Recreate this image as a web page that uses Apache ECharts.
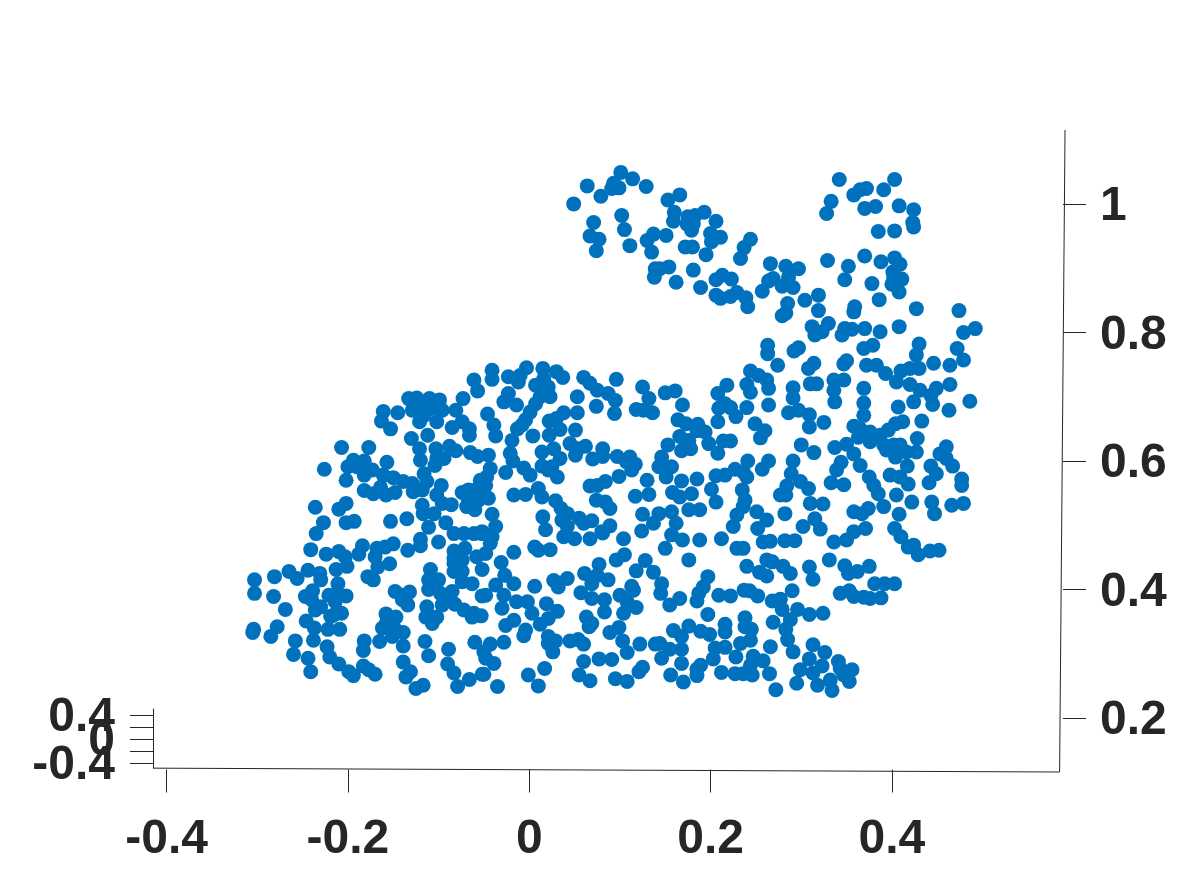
<!DOCTYPE html>
<html>
<head>
<meta charset="utf-8">
<style>html,body{margin:0;padding:0;background:#fff}#c{width:1178px;height:869px}</style>
<script src="https://cdn.jsdelivr.net/npm/echarts@6/dist/echarts.min.js"></script>
</head>
<body>
<div id="c"></div>
<script>
const xTicks = [-0.4, -0.2, 0, 0.2, 0.4];
const yTicks = [0.2, 0.4, 0.6, 0.8, 1];
const zTicks = [-0.4, -0.2, 0, 0.2, 0.4];
const zOuterLabels = [-0.4, 0.4];
const zMiddleLabel = [0];

const rumpUpper = [[-0.207,0.621],[-0.177,0.621],[-0.226,0.587],[-0.236,0.528],[-0.227,0.504],[-0.235,0.487],[-0.202,0.570],[-0.194,0.601],[-0.182,0.600],[-0.200,0.591],[-0.190,0.591],[-0.182,0.578],[-0.173,0.586],[-0.157,0.598],[-0.161,0.578],[-0.150,0.574],[-0.139,0.568],[-0.129,0.565],[-0.116,0.580],[-0.113,0.568],[-0.182,0.554],[-0.172,0.549],[-0.164,0.559],[-0.158,0.547],[-0.148,0.551],[-0.128,0.552],[-0.118,0.555],[-0.102,0.547],[-0.097,0.562],[-0.118,0.531],[-0.117,0.518],[-0.105,0.518],[-0.096,0.534],[-0.086,0.532],[-0.202,0.534],[-0.210,0.525],[-0.202,0.504],[-0.193,0.506],[-0.153,0.506],[-0.135,0.510],[-0.111,0.497],[-0.092,0.504],[-0.161,0.677],[-0.145,0.675],[-0.163,0.662],[-0.153,0.650],[-0.133,0.697],[-0.124,0.698],[-0.110,0.697],[-0.099,0.695],[-0.129,0.679],[-0.118,0.687],[-0.107,0.682],[-0.096,0.679],[-0.121,0.661],[-0.102,0.661],[-0.116,0.671],[-0.081,0.679],[-0.073,0.697],[-0.061,0.726],[-0.057,0.709],[-0.085,0.652],[-0.074,0.661],[-0.066,0.650],[-0.066,0.640],[-0.130,0.635],[-0.112,0.640],[-0.121,0.619],[-0.120,0.601],[-0.103,0.619],[-0.102,0.604],[-0.104,0.593],[-0.094,0.604],[-0.088,0.623],[-0.081,0.616],[-0.065,0.613],[-0.057,0.607],[-0.054,0.570],[-0.057,0.557],[-0.067,0.555],[-0.074,0.551],[-0.067,0.539],[-0.069,0.529],[-0.060,0.524],[-0.056,0.539]];

const rumpLower = [[-0.241,0.462],[-0.224,0.455],[-0.210,0.459],[-0.203,0.451],[-0.201,0.436],[-0.213,0.431],[-0.188,0.455],[-0.184,0.468],[-0.168,0.464],[-0.170,0.451],[-0.167,0.435],[-0.154,0.440],[-0.159,0.466],[-0.150,0.471],[-0.134,0.461],[-0.120,0.478],[-0.120,0.468],[-0.100,0.474],[-0.083,0.487],[-0.072,0.487],[-0.061,0.487],[-0.052,0.487],[-0.083,0.460],[-0.071,0.464],[-0.083,0.448],[-0.083,0.441],[-0.083,0.428],[-0.074,0.446],[-0.074,0.428],[-0.074,0.412],[-0.063,0.409],[-0.058,0.451],[-0.052,0.431],[-0.109,0.431],[-0.111,0.415],[-0.100,0.415],[-0.111,0.400],[-0.098,0.394],[-0.085,0.397],[-0.093,0.384],[-0.082,0.377],[-0.072,0.368],[-0.061,0.363],[-0.053,0.359],[-0.063,0.357],[-0.052,0.390],[-0.113,0.373],[-0.114,0.357],[-0.102,0.357],[-0.107,0.347],[-0.096,0.376],[-0.178,0.420],[-0.172,0.415],[-0.148,0.397],[-0.132,0.396],[-0.140,0.391],[-0.140,0.384],[-0.134,0.376],[-0.158,0.362],[-0.147,0.357],[-0.157,0.350],[-0.162,0.340],[-0.148,0.338],[-0.139,0.333],[-0.151,0.327],[-0.165,0.319],[-0.139,0.312],[-0.182,0.320],[-0.183,0.305],[-0.115,0.319],[-0.111,0.297],[-0.089,0.307],[-0.060,0.318],[-0.090,0.284],[-0.083,0.270],[-0.066,0.260],[-0.052,0.268],[-0.079,0.249],[-0.048,0.293],[-0.139,0.287],[-0.131,0.272],[-0.136,0.264],[-0.125,0.246],[-0.117,0.251],[-0.183,0.281],[-0.177,0.275],[-0.170,0.268],[-0.199,0.272],[-0.194,0.266],[-0.210,0.284],[-0.220,0.295],[-0.223,0.311],[-0.244,0.293],[-0.241,0.272],[-0.260,0.299],[-0.258,0.320],[-0.238,0.321],[-0.237,0.340],[-0.246,0.351],[-0.222,0.338],[-0.209,0.338],[-0.236,0.368],[-0.230,0.373],[-0.216,0.360],[-0.207,0.363],[-0.219,0.358],[-0.247,0.389],[-0.239,0.398],[-0.240,0.384],[-0.221,0.391],[-0.211,0.409],[-0.212,0.394],[-0.202,0.390],[-0.214,0.381],[-0.303,0.415],[-0.303,0.394],[-0.281,0.420],[-0.282,0.389],[-0.269,0.369],[-0.265,0.428],[-0.256,0.417],[-0.244,0.430],[-0.231,0.425],[-0.230,0.415],[-0.304,0.338],[-0.305,0.333],[-0.278,0.342],[-0.285,0.327]];

const backUpper = [[-0.041,0.741],[-0.041,0.727],[-0.023,0.731],[-0.010,0.733],[-0.003,0.745],[-0.012,0.723],[0.015,0.744],[0.007,0.718],[0.016,0.728],[0.030,0.739],[0.037,0.730],[-0.023,0.705],[-0.028,0.692],[-0.014,0.687],[0.007,0.689],[0.001,0.676],[0.012,0.700],[0.023,0.700],[0.021,0.715],[-0.046,0.673],[-0.039,0.656],[-0.037,0.639],[-0.013,0.650],[-0.019,0.632],[-0.004,0.664],[0.004,0.639],[-0.008,0.656],[0.053,0.700],[0.060,0.730],[0.067,0.721],[0.075,0.710],[0.087,0.705],[0.095,0.694],[0.074,0.685],[0.094,0.674],[0.096,0.727],[0.053,0.675],[0.038,0.675],[0.030,0.666],[0.022,0.662],[0.034,0.649],[0.022,0.640],[0.051,0.648],[0.045,0.627],[0.054,0.619],[0.062,0.623],[0.070,0.603],[0.081,0.619],[0.081,0.607],[0.051,0.609],[0.027,0.619],[0.014,0.614],[0.014,0.592],[0.021,0.586],[0.031,0.575],[0.034,0.604],[0.025,0.591],[-0.045,0.609],[-0.043,0.588],[-0.021,0.612],[-0.018,0.600],[-0.026,0.582],[-0.006,0.589],[0.001,0.578],[-0.047,0.575],[-0.048,0.562],[-0.045,0.542],[-0.017,0.547],[-0.004,0.548],[0.010,0.557],[0.014,0.544],[0.067,0.561],[0.084,0.568],[0.075,0.562],[0.099,0.576],[0.097,0.607],[0.111,0.606],[0.117,0.595],[0.107,0.599],[0.113,0.586],[0.125,0.715],[0.132,0.697],[0.118,0.680],[0.126,0.679],[0.136,0.675],[0.150,0.706],[0.161,0.709],[0.169,0.687],[0.208,0.705],[0.209,0.682],[0.208,0.661],[0.218,0.718],[0.216,0.689],[0.164,0.664],[0.173,0.658],[0.186,0.657],[0.185,0.647],[0.194,0.645],[0.198,0.627],[0.166,0.638],[0.176,0.632],[0.168,0.616],[0.178,0.619],[0.153,0.625],[0.208,0.612],[0.214,0.631],[0.222,0.631],[0.146,0.606],[0.143,0.591],[0.157,0.591],[0.151,0.575],[0.130,0.570],[0.117,0.545],[0.132,0.548],[0.158,0.551],[0.168,0.569],[0.185,0.572],[0.166,0.544],[0.179,0.549],[0.206,0.577],[0.216,0.578],[0.201,0.556],[0.206,0.536],[0.074,0.539],[0.084,0.536],[0.089,0.526],[0.029,0.538],[0.035,0.526],[0.042,0.518],[0.015,0.513],[0.018,0.493],[0.036,0.508],[0.042,0.498],[0.055,0.511],[0.069,0.507],[0.060,0.503],[0.089,0.499],[0.080,0.490],[0.124,0.491],[0.125,0.517],[0.137,0.503],[0.143,0.518],[0.157,0.521],[0.162,0.503],[0.176,0.524],[0.188,0.524],[-0.041,0.517],[-0.037,0.498],[-0.052,0.490],[-0.041,0.482]];

const bellyLower = [[0.038,0.482],[0.050,0.479],[0.067,0.479],[0.104,0.479],[0.157,0.485],[0.169,0.477],[0.150,0.464],[0.188,0.477],[0.212,0.479],[0.081,0.488],[-0.017,0.458],[0.006,0.466],[0.010,0.461],[0.023,0.462],[-0.031,0.442],[-0.043,0.472],[-0.048,0.456],[0.096,0.446],[0.105,0.454],[0.128,0.445],[0.118,0.429],[0.137,0.427],[0.176,0.446],[-0.027,0.422],[-0.037,0.407],[-0.017,0.409],[-0.028,0.391],[-0.048,0.391],[-0.014,0.381],[-0.030,0.371],[0.006,0.405],[0.027,0.414],[0.042,0.417],[0.032,0.404],[0.061,0.425],[0.077,0.439],[0.075,0.422],[0.087,0.415],[0.069,0.409],[0.057,0.395],[0.069,0.386],[0.083,0.384],[0.083,0.365],[-0.002,0.381],[0.003,0.363],[0.019,0.378],[0.031,0.366],[0.021,0.355],[0.012,0.346],[-0.004,0.337],[-0.006,0.328],[-0.017,0.352],[-0.026,0.344],[0.146,0.409],[0.145,0.394],[0.166,0.386],[0.155,0.376],[0.197,0.420],[0.192,0.404],[0.187,0.394],[0.185,0.382],[0.209,0.391],[0.197,0.361],[0.113,0.405],[0.100,0.391],[0.115,0.399],[0.108,0.381],[0.118,0.372],[0.104,0.363],[0.063,0.357],[0.069,0.347],[0.066,0.342],[0.099,0.341],[0.089,0.333],[0.176,0.343],[0.159,0.336],[0.168,0.327],[0.189,0.335],[0.199,0.330],[0.216,0.346],[0.216,0.334],[0.021,0.327],[0.029,0.320],[0.026,0.303],[0.021,0.316],[0.045,0.320],[0.054,0.322],[0.060,0.315],[-0.028,0.318],[-0.043,0.315],[-0.050,0.303],[-0.039,0.285],[-0.050,0.268],[-0.035,0.249],[0.103,0.320],[0.108,0.302],[0.122,0.315],[0.144,0.316],[0.139,0.315],[0.155,0.307],[0.168,0.307],[0.146,0.293],[0.168,0.285],[0.205,0.309],[0.203,0.292],[0.216,0.310],[0.060,0.288],[0.077,0.292],[0.091,0.291],[0.055,0.267],[0.067,0.258],[0.095,0.261],[0.108,0.257],[0.121,0.272],[0.125,0.279],[-0.001,0.267],[0.017,0.277],[0.010,0.250],[0.189,0.282],[0.185,0.276],[0.185,0.266],[0.156,0.267],[0.170,0.256],[0.212,0.271]];

const chestUpper = [[0.263,0.780],[0.263,0.767],[0.274,0.749],[0.244,0.740],[0.253,0.733],[0.262,0.726],[0.264,0.713],[0.240,0.719],[0.244,0.707],[0.291,0.714],[0.291,0.698],[0.286,0.675],[0.297,0.679],[0.309,0.672],[0.309,0.653],[0.325,0.660],[0.264,0.687],[0.240,0.683],[0.228,0.669],[0.222,0.683],[0.249,0.658],[0.260,0.647],[0.255,0.636],[0.297,0.776],[0.292,0.771],[0.314,0.752],[0.308,0.744],[0.310,0.720],[0.317,0.720],[0.336,0.726],[0.347,0.726],[0.336,0.710],[0.337,0.692],[0.350,0.756],[0.347,0.751],[0.369,0.713],[0.369,0.690],[0.369,0.671],[0.358,0.654],[0.365,0.650],[0.363,0.637],[0.376,0.645],[0.376,0.630],[0.387,0.640],[0.391,0.625],[0.396,0.648],[0.404,0.658],[0.412,0.661],[0.407,0.684],[0.433,0.662],[0.402,0.625],[0.409,0.625],[0.394,0.617],[0.404,0.606],[0.416,0.614],[0.427,0.614],[0.428,0.635],[0.372,0.749],[0.383,0.749],[0.393,0.736],[0.405,0.723],[0.410,0.740],[0.420,0.744],[0.430,0.744],[0.430,0.782],[0.427,0.765],[0.446,0.752],[0.464,0.749],[0.472,0.775],[0.479,0.757],[0.369,0.775],[0.379,0.780],[0.420,0.719],[0.431,0.710],[0.449,0.713],[0.464,0.719],[0.443,0.702],[0.424,0.692],[0.445,0.688],[0.486,0.693],[0.463,0.679],[0.300,0.625],[0.314,0.613],[0.337,0.621],[0.350,0.626],[0.358,0.611],[0.365,0.593],[0.344,0.598],[0.339,0.586],[0.333,0.566],[0.347,0.563],[0.291,0.600],[0.289,0.580],[0.299,0.568],[0.308,0.557],[0.284,0.561],[0.277,0.547],[0.283,0.547],[0.264,0.600],[0.257,0.587],[0.241,0.600],[0.227,0.587],[0.236,0.583],[0.240,0.575],[0.235,0.555],[0.238,0.539],[0.236,0.529],[0.229,0.516],[0.251,0.521],[0.262,0.508],[0.282,0.518],[0.310,0.534],[0.324,0.533],[0.375,0.575],[0.380,0.562],[0.385,0.549],[0.391,0.529],[0.398,0.578],[0.409,0.575],[0.418,0.564],[0.417,0.592],[0.405,0.547],[0.422,0.536],[0.443,0.592],[0.449,0.580],[0.441,0.566],[0.453,0.611],[0.460,0.622],[0.467,0.592],[0.460,0.604],[0.477,0.572],[0.477,0.562],[0.444,0.536],[0.447,0.518],[0.466,0.531],[0.479,0.534],[0.358,0.521],[0.367,0.518],[0.374,0.526],[0.408,0.517],[0.315,0.510]];

const pawsLower = [[0.225,0.498],[0.252,0.495],[0.302,0.498],[0.321,0.494],[0.371,0.495],[0.358,0.490],[0.350,0.477],[0.336,0.474],[0.403,0.495],[0.410,0.482],[0.418,0.466],[0.424,0.469],[0.429,0.454],[0.442,0.460],[0.452,0.461],[0.258,0.474],[0.266,0.475],[0.282,0.476],[0.293,0.476],[0.229,0.464],[0.236,0.464],[0.240,0.436],[0.254,0.427],[0.262,0.421],[0.262,0.446],[0.268,0.443],[0.280,0.436],[0.288,0.425],[0.309,0.435],[0.313,0.416],[0.331,0.446],[0.348,0.437],[0.352,0.425],[0.362,0.428],[0.375,0.436],[0.381,0.409],[0.392,0.409],[0.403,0.409],[0.343,0.394],[0.353,0.398],[0.358,0.389],[0.369,0.388],[0.376,0.386],[0.388,0.387],[0.237,0.399],[0.243,0.398],[0.252,0.390],[0.222,0.390],[0.290,0.398],[0.268,0.382],[0.277,0.385],[0.279,0.369],[0.296,0.369],[0.309,0.361],[0.324,0.363],[0.288,0.353],[0.269,0.349],[0.283,0.338],[0.285,0.322],[0.291,0.303],[0.238,0.356],[0.238,0.342],[0.245,0.338],[0.244,0.321],[0.233,0.316],[0.266,0.311],[0.313,0.314],[0.326,0.302],[0.309,0.292],[0.323,0.281],[0.299,0.275],[0.313,0.270],[0.318,0.251],[0.332,0.259],[0.334,0.243],[0.295,0.254],[0.272,0.244],[0.341,0.288],[0.343,0.277],[0.356,0.275],[0.347,0.267],[0.353,0.257],[0.228,0.295],[0.247,0.296],[0.258,0.289],[0.244,0.282],[0.227,0.269],[0.236,0.269],[0.246,0.267],[0.265,0.269]];

const earLeft = [[0.049,1.000],[0.064,1.028],[0.079,1.012],[0.101,1.049],[0.114,1.039],[0.129,1.027],[0.091,1.024],[0.099,1.025],[0.093,1.032],[0.071,0.971],[0.102,0.982],[0.067,0.950],[0.077,0.945],[0.074,0.927],[0.105,0.960],[0.111,0.935],[0.166,1.014],[0.153,1.006],[0.160,0.987],[0.159,0.973],[0.175,0.980],[0.183,0.982],[0.193,0.987],[0.206,0.973],[0.174,0.969],[0.179,0.959],[0.181,0.969],[0.200,0.954],[0.211,0.948],[0.201,0.941],[0.172,0.933],[0.180,0.933],[0.195,0.921],[0.130,0.943],[0.137,0.953],[0.151,0.951],[0.135,0.925],[0.154,0.902],[0.139,0.899],[0.144,0.899],[0.138,0.886],[0.181,0.897],[0.162,0.878],[0.189,0.870],[0.206,0.882],[0.213,0.889],[0.223,0.883],[0.206,0.858],[0.211,0.853],[0.222,0.856],[0.229,0.862]];

const earRight = [[0.342,1.038],[0.403,1.038],[0.358,1.014],[0.365,1.022],[0.372,1.024],[0.391,1.022],[0.333,1.004],[0.328,0.985],[0.370,0.993],[0.382,0.996],[0.408,0.997],[0.424,0.991],[0.423,0.971],[0.424,0.964],[0.385,0.957],[0.403,0.958],[0.244,0.945],[0.237,0.932],[0.233,0.915],[0.266,0.907],[0.283,0.903],[0.297,0.899],[0.329,0.912],[0.352,0.903],[0.370,0.919],[0.388,0.910],[0.403,0.916],[0.409,0.906],[0.269,0.884],[0.264,0.880],[0.286,0.886],[0.279,0.872],[0.291,0.870],[0.257,0.864],[0.348,0.882],[0.378,0.876],[0.401,0.894],[0.411,0.883],[0.400,0.875],[0.408,0.863],[0.402,0.884],[0.239,0.854],[0.241,0.840],[0.304,0.850],[0.319,0.858],[0.319,0.834],[0.285,0.845],[0.283,0.830],[0.279,0.826],[0.359,0.840],[0.358,0.832],[0.386,0.851],[0.427,0.837],[0.474,0.834],[0.312,0.809],[0.330,0.814],[0.323,0.801],[0.315,0.796],[0.348,0.806],[0.356,0.805],[0.370,0.806],[0.387,0.801],[0.408,0.809],[0.345,0.796],[0.479,0.800],[0.492,0.806]];

const points = [].concat(rumpUpper, rumpLower, backUpper, bellyLower, chestUpper, pawsLower, earLeft, earRight);

const xLine = [[-0.415, 0.122], [0.585, 0.116]];
const yLine = [[0.585, 0.116], [0.591, 1.115]];

const ink = '#262626';
const labelFont = { color: ink, fontFamily: '"Liberation Sans", Arial, sans-serif', fontWeight: 'bold', fontSize: 48, showMinLabel: true, showMaxLabel: true, hideOverlap: false };
const fmt = v => String(+(+v).toFixed(1));
const zAxisBase = { gridIndex: 1, type: 'value', min: -0.483, max: 0.5, position: 'left', splitLine: { show: false } };
const zLabelAxis = values => Object.assign({}, zAxisBase, {
  axisLine: { show: false, onZero: false },
  axisTick: { show: false },
  axisLabel: Object.assign({ show: true, margin: 38, verticalAlign: 'top', lineHeight: 5, customValues: values, formatter: fmt }, labelFont)
});

const chart = echarts.init(document.getElementById('c'), null, { renderer: 'canvas' });
chart.setOption({
  animation: false,
  backgroundColor: '#ffffff',
  grid: [
    { left: 153, top: 130, width: 912.5, height: 642 },
    { left: 153, top: 709, width: 1, height: 59 }
  ],
  xAxis: [
    { gridIndex: 0, type: 'value', min: -0.415, max: 0.5915, position: 'bottom', offset: -2.5, splitLine: { show: false },
      axisLine: { show: false, onZero: false },
      axisTick: { show: true, length: 23, inside: false, customValues: xTicks, lineStyle: { color: ink, width: 1 } },
      axisLabel: Object.assign({ show: true, margin: 46, customValues: xTicks, formatter: fmt }, labelFont) },
    { gridIndex: 1, type: 'value', min: 0, max: 1, show: false }
  ],
  yAxis: [
    { gridIndex: 0, type: 'value', min: 0.116, max: 1.115, position: 'right', offset: -2.5, splitLine: { show: false },
      axisLine: { show: false, onZero: false },
      axisTick: { show: true, length: 23, customValues: yTicks, lineStyle: { color: ink, width: 1 } },
      axisLabel: Object.assign({ show: true, margin: 37, verticalAlign: 'top', lineHeight: 6, customValues: yTicks, formatter: fmt }, labelFont) },
    Object.assign({}, zAxisBase, {
      axisLine: { show: true, onZero: false, lineStyle: { color: ink, width: 1 } },
      axisTick: { show: true, length: 23, customValues: zTicks, lineStyle: { color: ink, width: 1 } },
      axisLabel: { show: false } }),
    zLabelAxis(zOuterLabels),
    zLabelAxis(zMiddleLabel)
  ],
  series: [
    { type: 'line', xAxisIndex: 0, yAxisIndex: 0, data: xLine, showSymbol: false, clip: false, silent: true,
      lineStyle: { color: ink, width: 1 } },
    { type: 'line', xAxisIndex: 0, yAxisIndex: 0, data: yLine, showSymbol: false, clip: false, silent: true,
      lineStyle: { color: ink, width: 1 } },
    { type: 'scatter', xAxisIndex: 0, yAxisIndex: 0, data: points, symbol: 'circle', symbolSize: 15, clip: false,
      itemStyle: { color: '#0072BD', opacity: 1 } }
  ]
});
</script>
</body>
</html>
